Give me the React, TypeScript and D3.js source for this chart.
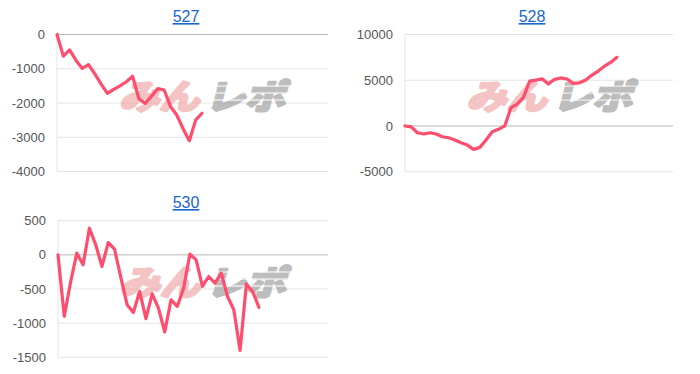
import React from "react";
import * as d3 from "d3";

const titles = ["527", "528", "530"];
const series527 = [0, -630, -450, -750, -990, -880, -1150, -1450, -1720, -1600, -1500, -1380, -1220, -1880, -2010, -1800, -1580, -1620, -2100, -2350, -2750, -3100, -2500, -2300];
const series528 = [0, -100, -740, -880, -740, -880, -1180, -1290, -1540, -1830, -2090, -2560, -2340, -1540, -630, -370, 0, 2000, 2400, 3130, 4900, 5020, 5150, 4600, 5100, 5250, 5130, 4660, 4720, 5020, 5560, 6000, 6540, 6950, 7500];
const series530 = [0, -900, -400, 25, -146, 390, 150, -170, 180, 83, -330, -730, -843, -536, -935, -570, -780, -1130, -660, -755, -490, 10, -73, -460, -317, -414, -268, -610, -804, -1400, -428, -536, -770];
const ticks527 = [0, -1000, -2000, -3000, -4000];
const ticks528 = [10000, 5000, 0, -5000];
const ticks530 = [500, 0, -500, -1000, -1500];
const xMax = 43;

const LINE = "#ff4d6d";

type PanelProps = {
  title: string;
  data: number[];
  ticks: number[];
  left: number;
  right: number;
  top: number;
  bottom: number;
  titleX: number;
  titleY: number;
};

function Watermark({ x, y }: { x: number; y: number }) {
  return (
    <g transform={`translate(${x},${y}) skewX(-14)`} style={{ pointerEvents: "none" }}>
      <text x={0} y={0} fontFamily="'Noto Sans CJK JP'" fontWeight={700} fontSize={34} fill="#ee9e9e" stroke="#ee9e9e" strokeWidth={3} strokeLinejoin="round" opacity={0.6} textLength={80} lengthAdjust="spacingAndGlyphs">
        みん
      </text>
      <text x={86} y={0} fontFamily="'Noto Sans CJK JP'" fontWeight={700} fontSize={34} fill="#9a9a9a" stroke="#9a9a9a" strokeWidth={3} strokeLinejoin="round" opacity={0.65} textLength={80} lengthAdjust="spacingAndGlyphs">
        レポ
      </text>
      {[-23, -16, -9].map((dy) => (
        <line key={dy} x1={86} x2={172} y1={dy} y2={dy} stroke="#fff" strokeWidth={1.3} opacity={0.7} />
      ))}
    </g>
  );
}

function Panel({ title, data, ticks, left, right, top, bottom, titleX, titleY }: PanelProps) {
  const y = d3.scaleLinear().domain([d3.min(ticks)!, d3.max(ticks)!]).range([bottom, top]);
  const x = d3.scaleLinear().domain([0, xMax]).range([left, right]);
  const line = d3
    .line<number>()
    .x((_, i) => x(i))
    .y((d) => y(d));
  const wmX = left + (right - left) * 0.23;
  const wmY = (top + bottom) / 2 + 6;
  return (
    <g>
      <text x={titleX} y={titleY} textAnchor="middle" fontFamily="'Liberation Sans', Arial, sans-serif" fontSize={16} fill="#1a66cc" textDecoration="underline">
        {title}
      </text>
      {ticks.map((t) => (
        <g key={t}>
          <line x1={left} x2={right} y1={y(t)} y2={y(t)} stroke={t === 0 ? "#b8b8b8" : "#e4e4e4"} strokeWidth={1} />
          <text x={left - 12} y={y(t)} dy="0.35em" textAnchor="end" fontFamily="'Liberation Sans', Arial, sans-serif" fontSize={13} fill="#555">
            {t}
          </text>
        </g>
      ))}
      <line x1={left} x2={left} y1={top} y2={bottom} stroke="#e4e4e4" strokeWidth={1} />
      <Watermark x={wmX} y={wmY} />
      <path d={line(data) || ""} fill="none" stroke={LINE} strokeWidth={3.2} strokeLinejoin="round" strokeLinecap="round" />
    </g>
  );
}

export default function App() {
  return (
    <svg width={700} height={374} style={{ position: "absolute", left: 0, top: 0, background: "#fff" }}>
      <Panel title={titles[0]} data={series527} ticks={ticks527} left={57} right={328} top={34.5} bottom={171.5} titleX={186} titleY={22} />
      <Panel title={titles[1]} data={series528} ticks={ticks528} left={405} right={673} top={34.5} bottom={171.7} titleX={532} titleY={22} />
      <Panel title={titles[2]} data={series530} ticks={ticks530} left={58} right={328} top={220.7} bottom={357.3} titleX={186} titleY={208} />
    </svg>
  );
}
